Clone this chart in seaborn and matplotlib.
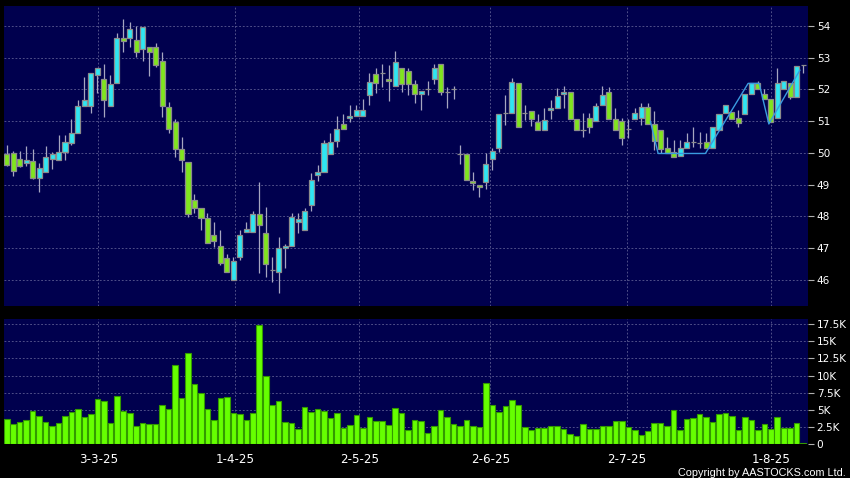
import numpy as np
import pandas as pd
import matplotlib
matplotlib.use("Agg")
import matplotlib.pyplot as plt
import seaborn as sns

# ---------------- data ----------------
opens = [49.96, 50.00, 49.80, 49.69, 49.75, 49.20, 49.38, 49.80, 49.76, 50.03,
         50.31, 50.62, 51.49, 51.47, 52.44, 52.32, 51.49, 52.19, 53.61, 53.61,
         53.55, 53.26, 53.35, 53.35, 52.90, 51.46, 50.98, 50.11, 49.70, 48.51,
         48.25, 47.93, 47.40, 47.07, 46.69, 45.99, 46.70, 47.49, 47.49, 48.06,
         47.46, 46.30, 46.23, 46.99, 47.06, 47.82, 47.56, 48.34, 49.29, 49.38,
         49.95, 50.36, 50.91, 51.09, 51.15, 51.15, 51.82, 52.50, 52.53, 52.34,
         52.10, 52.67, 52.59, 52.16, 51.85, 52.00, 52.32, 52.79, 51.91, 52.00,
         49.96, 49.95, 49.12, 49.00, 49.09, 49.80, 50.14, 51.25, 51.25, 52.19,
         51.25, 51.33, 50.98, 50.72, 51.35, 51.42, 51.85, 51.91, 51.06, 50.72,
         51.09, 51.00, 51.51, 51.93, 51.08, 51.00, 50.74, 51.06, 51.09, 51.45,
         50.90, 50.72, 50.14, 50.03, 49.90, 50.14, 50.33, 50.30, 50.35, 50.14,
         50.72, 51.25, 51.30, 51.09, 51.21, 51.85, 52.19, 51.85, 51.69, 51.09,
         52.00, 52.19, 51.77, 52.77]
highs = [50.25, 50.06, 50.06, 50.22, 50.12, 49.69, 50.21, 50.03, 50.55, 50.55,
         51.07, 51.67, 52.40, 52.51, 52.68, 52.80, 52.45, 53.77, 54.21, 54.12,
         54.00, 53.96, 53.35, 53.45, 53.19, 51.60, 51.06, 50.49, 49.70, 48.69,
         48.25, 48.09, 47.83, 47.56, 46.81, 46.71, 47.56, 47.83, 48.17, 49.09,
         48.30, 46.72, 47.35, 47.14, 48.09, 48.09, 48.25, 49.37, 49.61, 50.40,
         50.62, 51.16, 51.22, 51.51, 51.50, 51.69, 52.51, 52.67, 52.80, 52.77,
         53.21, 52.67, 52.67, 52.30, 51.94, 52.26, 52.79, 52.79, 52.09, 52.11,
         50.25, 49.95, 49.38, 49.00, 49.98, 50.16, 51.21, 51.82, 52.35, 52.19,
         51.51, 51.33, 51.21, 51.40, 51.67, 52.03, 52.11, 51.91, 51.06, 51.25,
         51.25, 51.56, 52.11, 52.09, 51.40, 51.09, 51.06, 51.40, 51.56, 51.56,
         51.32, 50.72, 50.49, 50.40, 50.40, 50.62, 50.80, 50.67, 50.62, 50.80,
         51.21, 51.51, 51.30, 51.35, 51.85, 52.19, 52.27, 52.00, 51.69, 52.69,
         52.27, 52.19, 52.75, 52.77]
lows = [49.58, 49.28, 49.55, 49.59, 49.17, 48.77, 49.38, 49.49, 49.76, 49.78,
        50.25, 50.62, 51.49, 51.25, 51.90, 51.14, 51.49, 52.19, 53.19, 53.35,
        53.03, 52.90, 52.43, 52.70, 51.14, 50.62, 49.88, 49.38, 47.98, 48.09,
        47.56, 47.15, 47.04, 46.46, 46.23, 45.99, 46.62, 47.49, 47.49, 46.20,
        46.09, 45.93, 45.59, 46.36, 47.06, 47.46, 47.56, 48.17, 49.12, 49.38,
        49.95, 50.19, 50.74, 50.98, 51.15, 51.15, 51.51, 51.90, 52.09, 51.64,
        52.10, 51.93, 51.82, 51.56, 51.35, 51.82, 52.16, 51.82, 51.40, 51.69,
        49.65, 49.14, 48.83, 48.60, 48.85, 49.46, 50.03, 50.88, 51.25, 50.82,
        51.03, 50.85, 50.72, 50.72, 51.06, 51.42, 51.40, 51.06, 50.72, 50.49,
        50.63, 51.00, 51.51, 51.06, 50.72, 50.25, 50.46, 51.06, 50.88, 50.90,
        50.09, 50.00, 49.98, 49.88, 49.90, 50.14, 50.17, 50.14, 50.14, 50.14,
        50.72, 51.25, 51.06, 50.82, 51.21, 51.85, 52.00, 51.69, 50.98, 51.09,
        52.00, 51.69, 51.77, 52.51]
closes = [49.61, 49.43, 49.59, 49.78, 49.20, 49.51, 49.87, 49.95, 50.03, 50.35,
          50.63, 51.49, 51.66, 52.51, 52.68, 51.67, 52.16, 53.61, 53.52, 53.90,
          53.19, 53.96, 53.17, 52.76, 51.48, 50.74, 50.11, 49.76, 48.06, 48.25,
          47.93, 47.15, 47.22, 46.53, 46.23, 46.60, 47.40, 47.59, 48.06, 47.74,
          46.48, 46.30, 46.99, 47.07, 47.98, 47.90, 48.17, 49.13, 49.38, 50.30,
          50.35, 50.74, 50.74, 51.15, 51.34, 51.34, 52.24, 52.19, 52.53, 52.26,
          52.85, 52.18, 52.18, 51.85, 51.94, 52.00, 52.68, 51.91, 51.91, 52.00,
          49.96, 49.14, 49.04, 48.93, 49.64, 50.06, 51.21, 51.25, 52.24, 50.82,
          51.25, 51.06, 50.72, 51.03, 51.40, 51.80, 51.93, 51.06, 50.72, 50.72,
          50.82, 51.49, 51.83, 51.06, 50.72, 50.46, 50.74, 51.25, 51.45, 50.90,
          50.37, 50.11, 49.98, 49.88, 50.14, 50.35, 50.33, 50.30, 50.14, 50.80,
          51.21, 51.51, 51.06, 50.95, 51.85, 52.19, 52.00, 51.69, 50.98, 52.19,
          52.27, 51.77, 52.75, 52.77]
volumes = [3630, 2890, 3240, 3530, 4750, 4020, 3190, 2650, 3040, 4020,
           4660, 5100, 3920, 4360, 6620, 6320, 3090, 7060, 4800, 4460,
           2550, 3090, 2940, 2940, 5690, 5050, 11600, 6670, 13300, 8820,
           7400, 5100, 3430, 6670, 6910, 4560, 4360, 3480, 4460, 17400,
           10000, 5690, 6320, 3240, 3040, 2110, 5440, 4610, 5050, 4750,
           3730, 4560, 2300, 2790, 4260, 2250, 3970, 3330, 3280, 2700,
           5250, 4560, 2060, 3430, 3300, 1570, 2650, 5000, 3920, 2840,
           2550, 3530, 2600, 2500, 8870, 5640, 4660, 5490, 6470, 5740,
           2450, 1960, 2250, 2350, 2650, 2650, 2200, 1470, 1080, 2940,
           2200, 2160, 2650, 2550, 3280, 3280, 2400, 1960, 1230, 1860,
           3090, 3090, 2550, 4900, 2000, 3580, 3730, 4410, 3970, 3240,
           4310, 4510, 4020, 1960, 3920, 3530, 2000, 2840, 2100, 3870,
           2300, 2300, 3090, 150]
date_labels = ["3-3-25", "1-4-25", "2-5-25", "2-6-25", "2-7-25", "1-8-25"]
price_ticks = [46, 47, 48, 49, 50, 51, 52, 53, 54]
volume_ticks = [0, 2500, 5000, 7500, 10000, 12500, 15000, 17500]
volume_tick_labels = ["0", "2.5K", "5K", "7.5K", "10K", "12.5K", "15K", "17.5K"]
trend_idx = [99.4, 100.6, 107.9, 114.5, 116.2, 117.7, 122.5]
trend_price = [51.0, 49.98, 49.98, 52.19, 52.19, 50.91, 52.61]

# ---------------- layout / style ----------------
date_tick_pos = [14.14, 35.3, 54.45, 74.7, 95.8, 118.1]
BG = "#00004e"
CYAN = "#2fe6f2"
GREEN = "#80e51e"
VOLG = "#66ff00"
GRID = "#5c5c92"

sns.set_style("dark")
plt.rcParams["font.family"] = ["DejaVu Sans"]

W, H = 850, 478
fig = plt.figure(figsize=(W / 100, H / 100), dpi=100, facecolor="black")
ax1 = fig.add_axes([4 / W, (H - 306) / H, 803.7 / W, 300.3 / H])
ax2 = fig.add_axes([4 / W, (H - 444) / H, 803.7 / W, 125 / H])

n = len(opens)
idx = np.arange(n)
o = np.array(opens); c = np.array(closes)
hi = np.array(highs); lo = np.array(lows)

# ---- candles ----
body_bottom = np.minimum(o, c)
body_h = np.abs(c - o)
cols = [CYAN if cc > oo else (GREEN if cc < oo else "none") for oo, cc in zip(o, c)]
ax1.vlines(idx, lo, hi, colors="#a6a6c0", linewidth=0.9, zorder=2)
ax1.bar(idx, body_h, bottom=body_bottom, width=0.78, color=cols,
        edgecolor="#8c8c8c", linewidth=0.9, zorder=3)
ax1.plot(trend_idx, trend_price, color="#3a9be0", linewidth=1.0, zorder=4)

# ---- volume ----
vdf = pd.DataFrame({"day": idx, "vol": volumes})
sns.barplot(data=vdf, x="day", y="vol", ax=ax2, color=VOLG, saturation=1,
            edgecolor="#339a00", linewidth=0.8, width=0.86, errorbar=None)

for ax in (ax1, ax2):
    ax.set_facecolor(BG)
    ax.set_xlim(-0.42, 123.7)
    for s in ax.spines.values():
        s.set_visible(False)
    ax.set_xticks(date_tick_pos)
    ax.grid(True, color=GRID, linestyle=(0, (2.2, 2.2)), linewidth=0.6)
    ax.set_axisbelow(True)
    ax.yaxis.tick_right()
    ax.tick_params(axis="y", colors="#b0b0b0", labelcolor="white",
                   length=4, width=0.8, pad=2.5, labelsize=7.6)
    ax.set_xlabel("")
    ax.set_ylabel("")

ax1.set_ylim(45.17, 54.64)
ax1.set_yticks(price_ticks)
ax1.set_yticklabels([str(p) for p in price_ticks])
ax1.tick_params(axis="x", length=0, labelbottom=False)

ax2.set_ylim(-60, 18300)
ax2.set_yticks(volume_ticks)
ax2.set_yticklabels(volume_tick_labels)
ax2.set_xticklabels(date_labels)
ax2.tick_params(axis="x", colors="#b0b0b0", labelcolor="white", length=4,
                width=0.8, pad=2.5, labelsize=8.6)

fig.text(845.5 / W, (H - 475.5) / H, "Copyright by AASTOCKS.com Ltd.",
         ha="right", va="baseline", color="white", fontsize=7.8,
         family=["Liberation Sans", "DejaVu Sans"])

fig.savefig("out.png", dpi=100, facecolor="black")
